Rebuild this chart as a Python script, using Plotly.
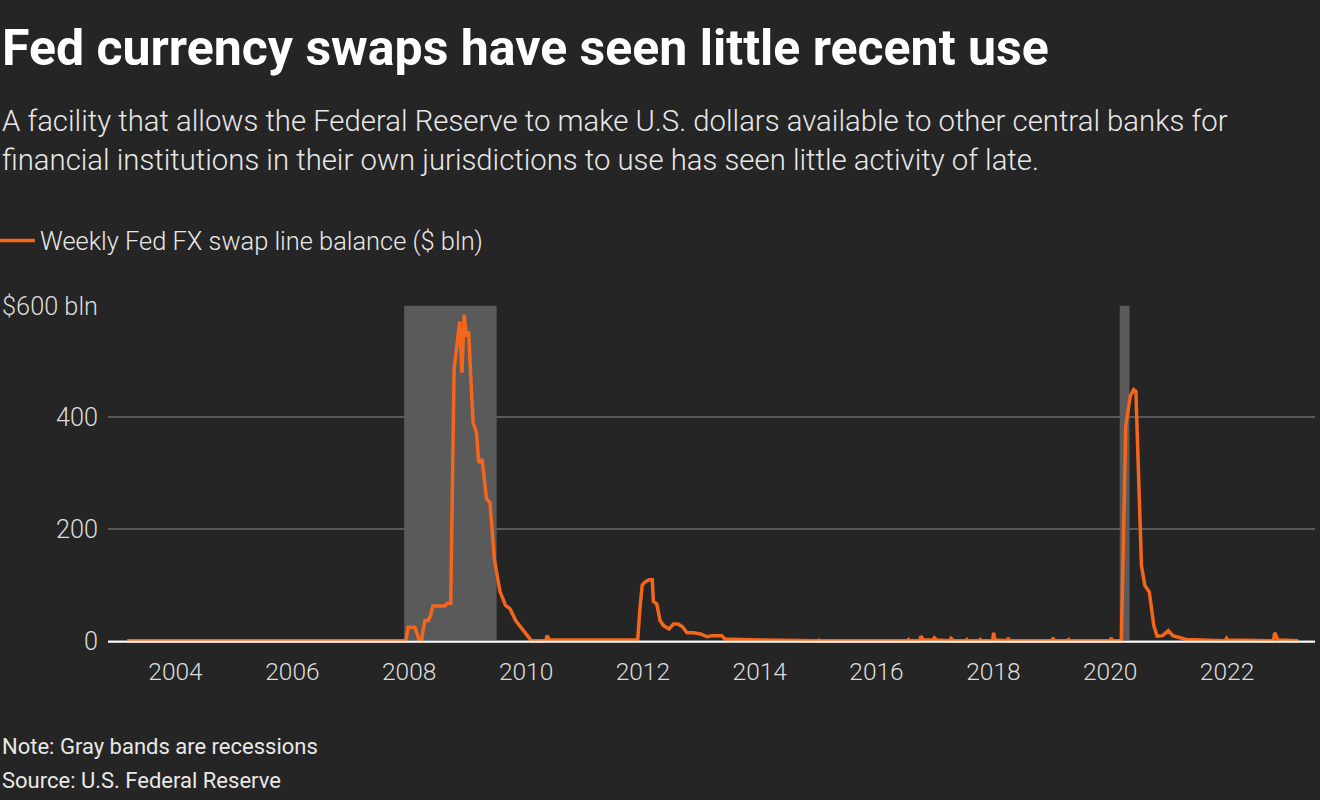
import plotly.graph_objects as go

# ---------------- data ----------------
dates = [
    "2003-03-05", "2007-12-12", "2007-12-26", "2008-02-06", "2008-03-05", "2008-03-19",
    "2008-03-26", "2008-04-09", "2008-04-30", "2008-05-14", "2008-05-28", "2008-08-13",
    "2008-08-27", "2008-09-17", "2008-10-08", "2008-11-12", "2008-11-26", "2008-12-10",
    "2008-12-24", "2009-01-07", "2009-01-21", "2009-02-04", "2009-02-25", "2009-03-11",
    "2009-04-01", "2009-04-29", "2009-05-20", "2009-06-17", "2009-07-08", "2009-07-22",
    "2009-08-26", "2009-09-23", "2009-10-28", "2009-11-25", "2010-01-20", "2010-02-03",
    "2010-05-05", "2010-05-12", "2010-05-26", "2011-11-30", "2011-12-14", "2011-12-28",
    "2012-01-11", "2012-02-08", "2012-02-29", "2012-03-07", "2012-03-28", "2012-04-18",
    "2012-05-09", "2012-06-13", "2012-07-11", "2012-08-08", "2012-09-05", "2012-10-03",
    "2012-11-14", "2012-12-26", "2013-02-06", "2013-03-13", "2013-05-08", "2013-05-29",
    "2013-09-04", "2014-01-08", "2014-12-31", "2015-01-07", "2015-01-14", "2016-07-13",
    "2016-07-20", "2016-07-27", "2016-09-28", "2016-10-05", "2016-10-19", "2016-12-21",
    "2016-12-28", "2017-01-11", "2017-04-05", "2017-04-12", "2017-04-26", "2017-07-12",
    "2017-07-19", "2017-07-26", "2017-10-04", "2017-10-11", "2017-10-18", "2017-12-27",
    "2018-01-03", "2018-01-10", "2018-03-28", "2018-04-04", "2018-04-11", "2019-01-02",
    "2019-01-09", "2019-01-16", "2019-04-10", "2019-04-17", "2019-04-24", "2020-01-01",
    "2020-01-08", "2020-01-15", "2020-03-11", "2020-04-08", "2020-05-06", "2020-05-27",
    "2020-06-10", "2020-06-17", "2020-07-01", "2020-07-15", "2020-08-05", "2020-09-02",
    "2020-09-30", "2020-10-21", "2020-11-25", "2020-12-30", "2021-01-27", "2021-03-17",
    "2021-04-21", "2021-12-22", "2021-12-29", "2022-01-05", "2022-10-19", "2022-10-26",
    "2022-11-16", "2023-03-22",
]
swap_balance = [
    0, 0, 24, 24, 0, 0,
    15, 36, 36, 45, 62, 62,
    67, 67, 486, 572, 480, 584,
    545, 554, 468, 391, 373, 319,
    325, 254, 248, 146, 111, 88,
    63, 57, 36, 25, 3, 0,
    0, 9, 1, 1, 57, 99,
    104, 109, 109, 70, 66, 36,
    27, 21, 30, 30, 25, 14,
    14, 12, 7, 9, 9, 3,
    2, 1, 0, 1, 0, 0,
    2, 0, 0, 8, 1, 1,
    5, 1, 0, 4, 0, 0,
    2, 0, 0, 2, 0, 0,
    14, 1, 0, 5, 0, 0,
    5, 0, 0, 2, 0, 0,
    5, 0, 0, 385, 438, 450,
    447, 373, 224, 134, 99, 87,
    27, 8, 9, 18, 9, 4,
    2, 0, 4, 1, 0, 14,
    1, 0,
]
recession_starts = ["2007-12-01", "2020-03-01"]
recession_ends = ["2009-07-01", "2020-05-01"]
year_ticks = ["2004-01-01", "2006-01-01", "2008-01-01", "2010-01-01", "2012-01-01",
              "2014-01-01", "2016-01-01", "2018-01-01", "2020-01-01", "2022-01-01"]
y_ticks = [0, 200, 400, 600]
y_tick_labels = ["0", "200", "400", "$600 bln"]

series_name = "Weekly Fed FX swap line balance ($ bln)"
title_text = "Fed currency swaps have seen little recent use"
subtitle_lines = [
    "A facility that allows the Federal Reserve to make U.S. dollars available to other central banks for",
    "financial institutions in their own jurisdictions to use has seen little activity of late.",
]
note_text = "Note: Gray bands are recessions"
source_text = "Source: U.S. Federal Reserve"

# ---------------- layout constants ----------------
W, H = 1320, 800
L, R, T, B = 108, 5, 305, 156
PW, PH = W - L - R, H - T - B
BG = "#252525"
ORANGE = "#f4661b"
FONT = "Roboto"


def px(x):
    return (x - L) / PW


def py(y):
    return (H - B - y) / PH


fig = go.Figure()
fig.add_trace(go.Scatter(
    x=dates, y=swap_balance, mode="lines", name=series_name,
    line=dict(color=ORANGE, width=3.5), showlegend=True,
))

for s, e in zip(recession_starts, recession_ends):
    fig.add_shape(type="rect", xref="x", yref="y", x0=s, x1=e, y0=0, y1=600,
                  fillcolor="#5a5a5a", line=dict(width=0), layer="between")

# white baseline
fig.add_shape(type="line", xref="paper", yref="y", x0=0, x1=1, y0=-1.8, y1=-1.8,
              line=dict(color="#ffffff", width=2), layer="above")

annotations = [
    dict(text=title_text, x=px(0), y=py(48), font=dict(family=FONT, size=50, color="#ffffff", weight=700)),
    dict(text=subtitle_lines[0], x=px(0), y=py(121), font=dict(family=FONT, size=29.3, color="#e8e8e8", weight=300)),
    dict(text=subtitle_lines[1], x=px(0), y=py(159.5), font=dict(family=FONT, size=29.3, color="#e8e8e8", weight=300)),
    dict(text=note_text, x=px(0), y=py(746), font=dict(family=FONT, size=22, color="#e8e8e8", weight=400)),
    dict(text=source_text, x=px(0), y=py(780), font=dict(family=FONT, size=22, color="#e8e8e8", weight=400)),
]
for a in annotations:
    fig.add_annotation(xref="paper", yref="paper", xanchor="left", yanchor="middle",
                       showarrow=False, align="left", **a)

fig.update_layout(
    width=W, height=H,
    margin=dict(l=L, r=R, t=T, b=B, pad=0, autoexpand=False),
    paper_bgcolor=BG, plot_bgcolor=BG,
    font=dict(family=FONT, color="#dddddd", weight=300),
    showlegend=True,
    legend=dict(xref="paper", yref="paper", x=px(-5), y=py(241),
                xanchor="left", yanchor="middle", bgcolor="rgba(0,0,0,0)",
                font=dict(family=FONT, size=25.4, color="#e8e8e8", weight=300),
                itemwidth=35),
    xaxis=dict(
        type="date", range=["2002-11-05", "2023-07-05"],
        tickvals=year_ticks, tickformat="%Y", showgrid=False, zeroline=False,
        showline=False, ticks="", ticklabelstandoff=10, automargin=False,
        tickfont=dict(family=FONT, size=24.5, color="#dddddd", weight=300),
    ),
    yaxis=dict(
        range=[-6, 601.5], tickvals=y_ticks, ticktext=y_tick_labels,
        showgrid=True, gridcolor="#585858", gridwidth=1.5, zeroline=False,
        showline=False, ticks="", ticklabelstandoff=9, automargin=False,
        tickfont=dict(family=FONT, size=25.3, color="#dddddd", weight=300),
    ),
)

fig.write_html("out.html", config={"displayModeBar": False},
               post_script="document.body.style.margin='0px';")
